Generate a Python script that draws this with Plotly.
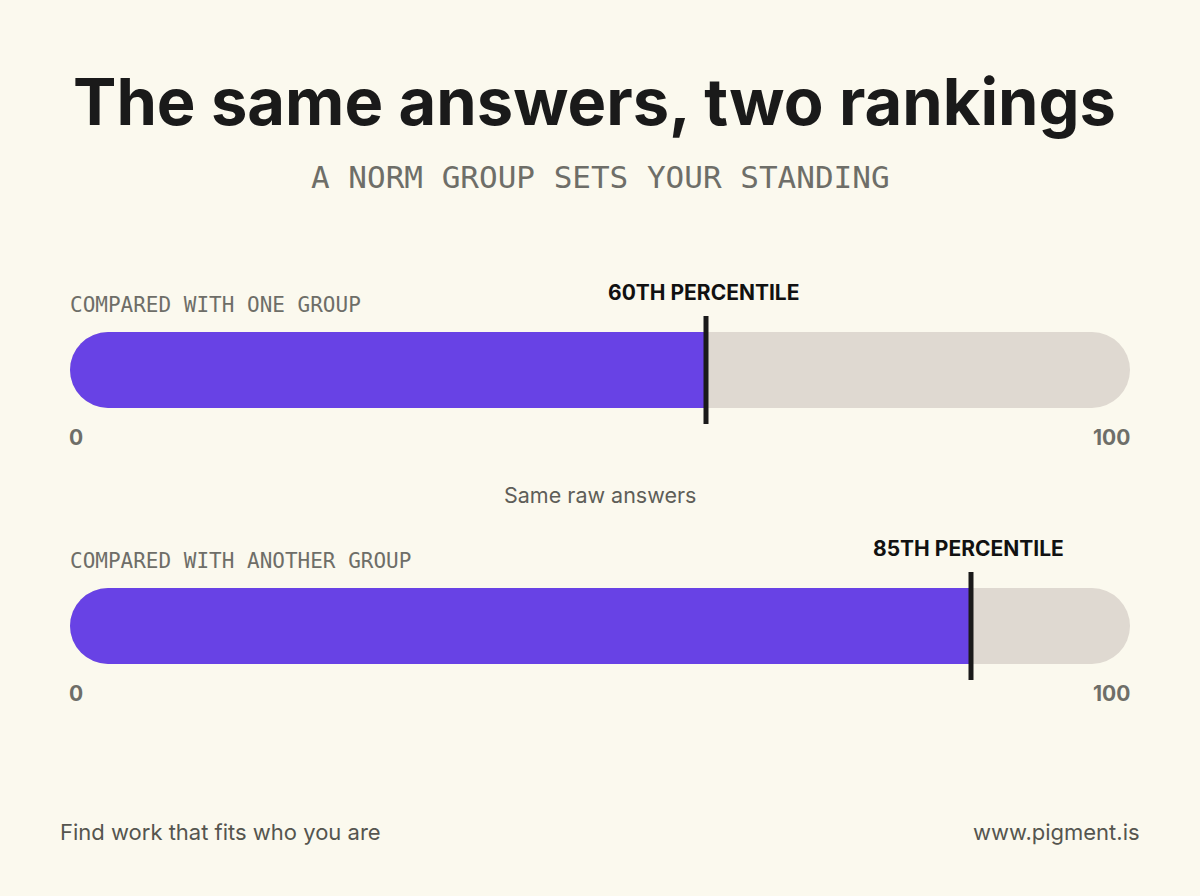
import plotly.graph_objects as go

# ---- data ----
groups = ["COMPARED WITH ONE GROUP", "COMPARED WITH ANOTHER GROUP"]
percentiles = [60, 85]
marker_labels = ["60TH PERCENTILE", "85TH PERCENTILE"]
scale_min = 0
scale_max = 100
scale_labels = ["0", "100"]

title = "The same answers, two rankings"
subtitle = "A NORM GROUP SETS YOUR STANDING"
middle_note = "Same raw answers"
footer_left = "Find work that fits who you are"
footer_right = "www.pigment.is"

# ---- style ----
W, H = 1200, 896
BG = "#FBF9EE"
PURPLE = "#6842E5"
TRACK = "#DFD9D1"
INK = "#1A1A1A"
GREY = "#6E6E68"
MONO = "DejaVu Sans Mono, monospace"
SANS = "Inter, Noto Sans, sans-serif"

def py(p):  # pixel row -> paper y
    return 1 - p / H

# panel pixel extents (marker line extent)
panels = [(316, 424), (572, 680)]
bar_frac = 76 / 108
x_dom = [70 / W, 1130 / W]

fig = go.Figure()
axes = [("x", "y"), ("x2", "y2")]

for i, (g, v) in enumerate(zip(groups, percentiles)):
    xa, ya = axes[i]
    # full rounded track 0..100
    fig.add_trace(go.Bar(
        y=[0], x=[scale_max - scale_min], base=[scale_min], orientation="h",
        marker=dict(color=TRACK, cornerradius="50%", line=dict(width=0)),
        width=bar_frac, xaxis=xa, yaxis=ya, hoverinfo="skip", showlegend=False))
    # rounded purple fill 0..v
    fig.add_trace(go.Bar(
        y=[0], x=[v - scale_min], base=[scale_min], orientation="h",
        marker=dict(color=PURPLE, cornerradius="50%", line=dict(width=0)),
        width=bar_frac, xaxis=xa, yaxis=ya, hoverinfo="skip", showlegend=False))
    # square right end of the fill
    fig.add_trace(go.Bar(
        y=[0], x=[(v - scale_min) / 2], base=[(v + scale_min) / 2], orientation="h",
        marker=dict(color=PURPLE, cornerradius=0, line=dict(width=0)),
        width=bar_frac, xaxis=xa, yaxis=ya, hoverinfo="skip", showlegend=False))

    top, bot = panels[i]
    fig.add_shape(type="line", xref=xa, yref=f"{ya} domain", x0=v, x1=v, y0=0, y1=1,
                  line=dict(color=INK, width=5), layer="above")
    # group label
    fig.add_annotation(text=g, xref="paper", yref="paper", x=68 / W, y=py(top - 11),
                       xanchor="left", yanchor="middle", showarrow=False,
                       font=dict(family=MONO, size=21, color=GREY))
    # percentile label
    fig.add_annotation(text=f"<b>{marker_labels[i]}</b>", xref=xa, yref="paper", x=v,
                       y=py(top - 24), xanchor="center", yanchor="middle", showarrow=False,
                       xshift=-3, font=dict(family=SANS, size=21, color="#111111"))
    # scale ends
    fig.add_annotation(text=f"<b>{scale_labels[0]}</b>", xref=xa, yref="paper", x=scale_min,
                       y=py(bot + 13), xanchor="left", yanchor="middle", showarrow=False,
                       xshift=-3, font=dict(family=SANS, size=21, color=GREY))
    fig.add_annotation(text=f"<b>{scale_labels[1]}</b>", xref=xa, yref="paper", x=scale_max,
                       y=py(bot + 13), xanchor="right", yanchor="middle", showarrow=False,
                       xshift=2, font=dict(family=SANS, size=21, color=GREY))

axis_common = dict(showgrid=False, zeroline=False, showticklabels=False, showline=False,
                   ticks="", fixedrange=True)
fig.update_layout(
    width=W, height=H,
    paper_bgcolor=BG, plot_bgcolor="rgba(0,0,0,0)",
    margin=dict(l=0, r=0, t=0, b=0),
    barmode="overlay", showlegend=False,
    xaxis=dict(domain=x_dom, range=[scale_min, scale_max], anchor="y", **axis_common),
    yaxis=dict(domain=[py(panels[0][1]), py(panels[0][0])], range=[-0.5, 0.5], anchor="x", **axis_common),
    xaxis2=dict(domain=x_dom, range=[scale_min, scale_max], anchor="y2", **axis_common),
    yaxis2=dict(domain=[py(panels[1][1]), py(panels[1][0])], range=[-0.5, 0.5], anchor="x2", **axis_common),
)

fig.add_annotation(text=f"<b>{title}</b>", xref="paper", yref="paper", x=0.495, y=py(102),
                   xanchor="center", yanchor="middle", showarrow=False,
                   font=dict(family=SANS, size=65, color=INK))
fig.add_annotation(text=subtitle, xref="paper", yref="paper", x=0.5, y=py(177),
                   xanchor="center", yanchor="middle", showarrow=False,
                   font=dict(family=MONO, size=31, color=GREY))
fig.add_annotation(text=middle_note, xref="paper", yref="paper", x=0.5, y=py(495),
                   xanchor="center", yanchor="middle", showarrow=False,
                   font=dict(family=SANS, size=21.5, color="#5E5E58"))
fig.add_annotation(text=footer_left, xref="paper", yref="paper", x=58 / W, y=py(832),
                   xanchor="left", yanchor="middle", showarrow=False,
                   font=dict(family=SANS, size=22, color="#55554F"))
fig.add_annotation(text=footer_right, xref="paper", yref="paper", x=1142 / W, y=py(832),
                   xanchor="right", yanchor="middle", showarrow=False,
                   font=dict(family=SANS, size=22, color="#55554F"))

fig.write_html("out.html")
